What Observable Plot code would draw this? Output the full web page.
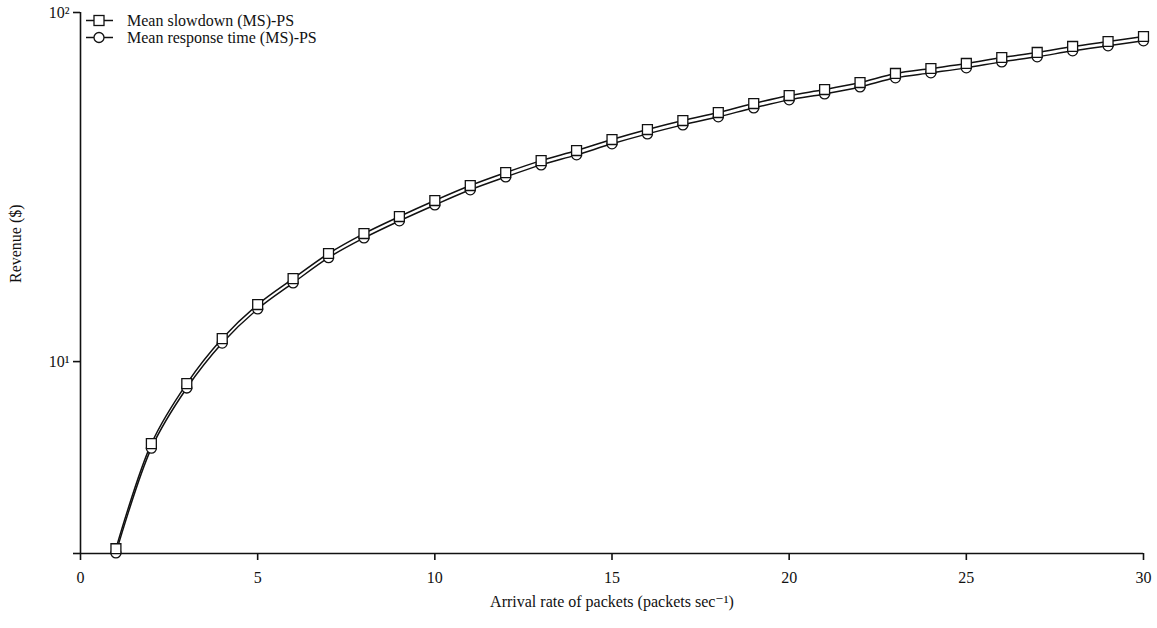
<!DOCTYPE html>
<html>
<head>
<meta charset="utf-8">
<script src="https://cdn.jsdelivr.net/npm/d3@7"></script>
<script src="https://cdn.jsdelivr.net/npm/@observablehq/plot@0.6"></script>
<style>
  html, body { margin: 0; padding: 0; background: #fff; }
  #wrap { position: relative; width: 1157px; height: 628px; font-family: "Liberation Serif", "DejaVu Serif", serif; }
  #wrap svg text { font-family: "Liberation Serif", "DejaVu Serif", serif !important; }
  #legend { position: absolute; left: 86px; top: 12px; font-size: 16px; color: #111; line-height: 17px; font-family: "Liberation Serif", serif; }
  #legend .row { display: flex; align-items: center; height: 17px; }
  #legend svg { margin-right: 14px; }
</style>
</head>
<body>
<div id="wrap"><div id="legend"></div></div>
<script>
const arrival = [1,2,3,4,5,6,7,8,9,10,11,12,13,14,15,16,17,18,19,20,21,22,23,24,25,26,27,28,29,30];
const slowdownPS = [2.91,5.82,8.65,11.64,14.57,17.29,20.40,23.27,26.03,28.93,31.94,34.79,37.65,40.23,43.26,46.21,49.03,51.70,54.86,57.83,60.17,63.01,66.88,69.12,71.44,74.32,76.82,79.92,82.59,85.36];
const responsePS = [2.83,5.65,8.40,11.30,14.15,16.80,19.85,22.60,25.30,28.10,31.05,33.80,36.60,39.10,42.05,44.90,47.65,50.25,53.30,56.20,58.45,61.20,65.00,67.15,69.40,72.20,74.65,77.65,80.25,82.95];
const seriesNames = ["Mean slowdown (MS)-PS", "Mean response time (MS)-PS"];
const xTicks = [0,5,10,15,20,25,30];
const yTicks = [2.82,10,100];
const yTickLabels = ["", "10\u00B9", "10\u00B2"];
const yDomain = [2.82, 100];

const sq = arrival.map((x,i) => ({x, y: slowdownPS[i]}));
const ci = arrival.map((x,i) => ({x, y: responsePS[i]}));
const FONT = '"Liberation Serif", serif';

const chart = Plot.plot({
  width: 1157,
  height: 628,
  marginLeft: 80,
  marginRight: 14,
  marginTop: 12,
  marginBottom: 75,
  style: { fontFamily: FONT, fontSize: "16px", color: "#111", background: "#fff" },
  x: { domain: [0, 30] },
  y: { type: "log", domain: yDomain },
  marks: [
    Plot.axisX({ ticks: xTicks, tickSize: 7, tickPadding: 11, tickFormat: d => String(d), label: null, fontSize: 16, strokeWidth: 1.6 }),
    Plot.axisY({ ticks: yTicks, tickSize: 7, tickPadding: 4, tickFormat: d => yTickLabels[yTicks.indexOf(d)], label: null, fontSize: 16, strokeWidth: 1.6 }),
    Plot.ruleX([0], { y1: yDomain[0], y2: yDomain[1], stroke: "#111", strokeWidth: 1.6 }),
    Plot.ruleY([yDomain[0]], { x1: 0, x2: 30, stroke: "#111", strokeWidth: 1.6 }),
    Plot.line(ci, { x: "x", y: "y", stroke: "#111", strokeWidth: 1.5, curve: "catmull-rom" }),
    Plot.line(sq, { x: "x", y: "y", stroke: "#111", strokeWidth: 1.5, curve: "catmull-rom" }),
    Plot.dot(ci, { x: "x", y: "y", symbol: "circle", r: 5, stroke: "#111", fill: "#fff", strokeWidth: 1.3 }),
    Plot.dot(sq, { x: "x", y: "y", symbol: "square", r: 5.6, stroke: "#111", fill: "#fff", strokeWidth: 1.3 }),
    Plot.text(["Arrival rate of packets (packets sec\u207B\u00B9)"], { frameAnchor: "bottom", dy: 53, fontSize: 16, fill: "#111", fontFamily: FONT }),
    Plot.text(["Revenue ($)"], { frameAnchor: "left", dx: -65, rotate: -90, fontSize: 16, fill: "#111", fontFamily: FONT })
  ]
});
document.getElementById("wrap").appendChild(chart);

const legend = document.getElementById("legend");
seriesNames.forEach((name, i) => {
  const row = document.createElement("div");
  row.className = "row";
  const sym = i === 0
    ? '<rect x="8" y="3.5" width="10" height="10" fill="#fff" stroke="#111" stroke-width="1.3"/>'
    : '<circle cx="13" cy="8.5" r="5" fill="#fff" stroke="#111" stroke-width="1.3"/>';
  row.innerHTML = '<svg width="27" height="17"><line x1="0" x2="27" y1="8.5" y2="8.5" stroke="#111" stroke-width="1.5"/>' + sym + '</svg><span>' + name + '</span>';
  legend.appendChild(row);
});
</script>
</body>
</html>
